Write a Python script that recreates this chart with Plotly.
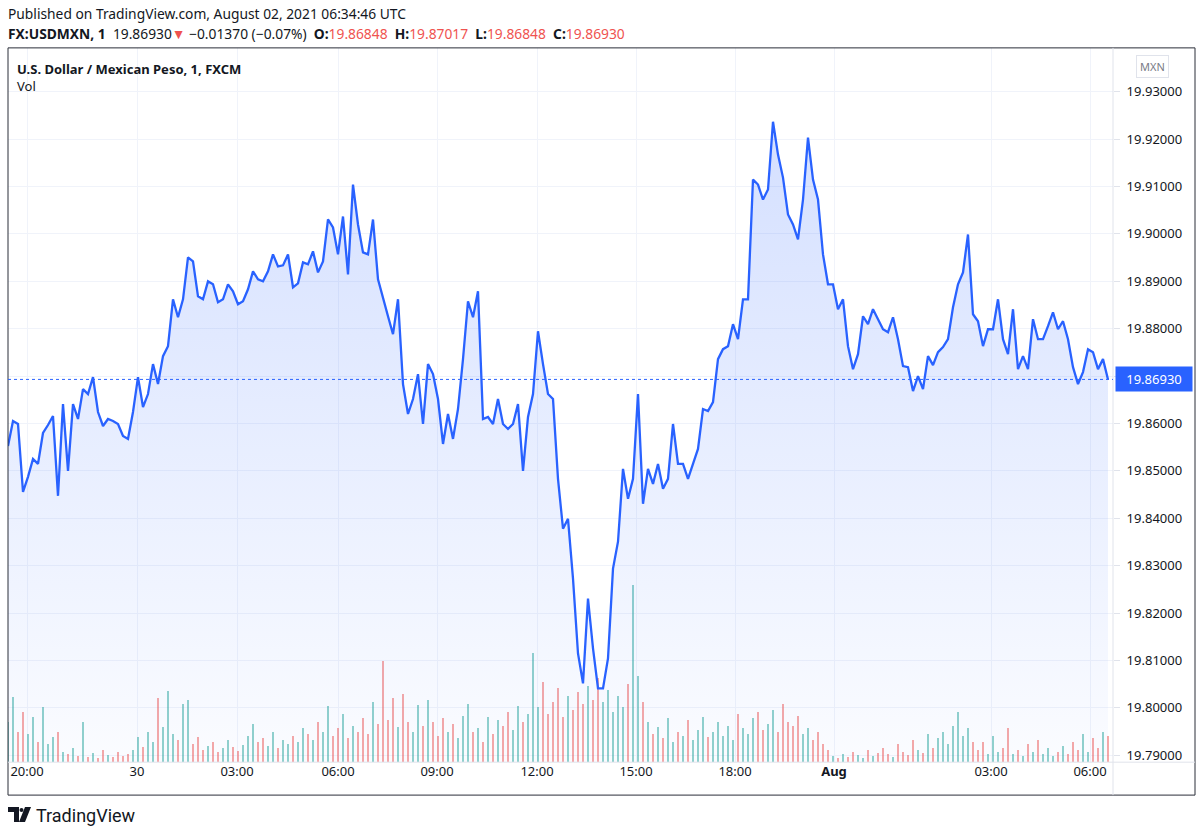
import plotly.graph_objects as go

# USD/MXN 1-minute, sampled along the chart (oldest -> newest)
prices = [
    19.85526, 19.86053, 19.85989, 19.84558, 19.84874, 19.85253, 19.85147, 19.85800, 19.85968, 19.86158,
    19.84474, 19.86410, 19.85000, 19.86410, 19.86095, 19.86726, 19.86621, 19.86979, 19.86242, 19.85947,
    19.86095, 19.86053, 19.85989, 19.85737, 19.85674, 19.86242, 19.86979, 19.86347, 19.86621, 19.87253,
    19.86832, 19.87421, 19.87632, 19.88621, 19.88242, 19.88621, 19.89505, 19.89421, 19.88684, 19.88621,
    19.89000, 19.88937, 19.88558, 19.88621, 19.88937, 19.88789, 19.88516, 19.88579, 19.88832, 19.89211,
    19.89042, 19.89000, 19.89211, 19.89568, 19.89316, 19.89337, 19.89568, 19.88874, 19.88958, 19.89400,
    19.89358, 19.89632, 19.89189, 19.89421, 19.90305, 19.90137, 19.89568, 19.90368, 19.89147, 19.91042,
    19.90200, 19.89611, 19.89568, 19.90305, 19.89042, 19.88621, 19.88263, 19.87884, 19.88621, 19.86832,
    19.86200, 19.86516, 19.87042, 19.85989, 19.87253, 19.87042, 19.86516, 19.85568, 19.86200, 19.85674,
    19.86305, 19.87358, 19.88579, 19.88242, 19.88789, 19.86095, 19.86137, 19.85989, 19.86516, 19.85989,
    19.85884, 19.85989, 19.86410, 19.85000, 19.86137, 19.86621, 19.87947, 19.87253, 19.86621, 19.86516,
    19.84832, 19.83779, 19.83989, 19.82726, 19.81147, 19.80516, 19.82305, 19.81252, 19.80410, 19.80410,
    19.81042, 19.82937, 19.83505, 19.85042, 19.84410, 19.84832, 19.86621, 19.84305, 19.85042, 19.84726,
    19.85147, 19.84621, 19.84832, 19.85989, 19.85147, 19.85147, 19.84832, 19.85147, 19.85463, 19.86305,
    19.86263, 19.86453, 19.87358, 19.87568, 19.87632, 19.88095, 19.87779, 19.88621, 19.88621, 19.91147,
    19.91042, 19.90726, 19.90937, 19.92368, 19.91674, 19.91189, 19.90411, 19.90200, 19.89884, 19.90726,
    19.92032, 19.91147, 19.90726, 19.89568, 19.88937, 19.88937, 19.88411, 19.88621, 19.87632, 19.87147,
    19.87463, 19.88263, 19.88095, 19.88411, 19.88200, 19.87989, 19.87926, 19.88242, 19.87779, 19.87211,
    19.87189, 19.86684, 19.87000, 19.86726, 19.87421, 19.87232, 19.87505, 19.87611, 19.87779, 19.88453,
    19.88937, 19.89189, 19.89989, 19.88305, 19.88158, 19.87632, 19.87989, 19.87989, 19.88621, 19.87779,
    19.87463, 19.88411, 19.87147, 19.87421, 19.87147, 19.88200, 19.87779, 19.87779, 19.88053, 19.88347,
    19.87989, 19.88158, 19.87779, 19.87189, 19.86832, 19.87084, 19.87568, 19.87505, 19.87147, 19.87358,
    19.86930,
]

volumes = [
    40, 65, 30, 50,
    28, 45, 20, 55, 18, 25, 30,
    10, 8, 14, 6, 40, 5, 9, 4, 12, 7, 5, 10, 6, 8, 12,
    25, 15, 30, 20, 64, 35, 71, 28, 22, 58, 62,
    18, 25, 12, 16, 20, 10, 14, 22, 15, 11, 17, 26,
    38, 20, 24, 16, 30, 14, 22, 18, 26, 20, 34,
    28, 22, 40, 30, 56, 26, 34, 48, 24, 36, 30, 44, 28,
    60, 38, 102, 42, 64, 35, 68, 40, 30,
    57, 36, 62, 40, 26, 44, 30, 38, 24, 46, 58,
    30, 34, 20, 45, 28, 42, 36, 50, 32, 56, 40, 48,
    110, 55, 80, 48, 60, 74, 45, 66, 52, 70, 58, 76, 62,
    84, 60, 72, 50, 66, 55, 78, 178,
    86, 60, 40, 28, 35, 24, 44, 20, 30, 26, 42, 22, 32, 45, 25,
    30, 40, 26, 36, 22, 48, 34, 28, 44, 50, 32, 38, 52, 30, 58, 40, 36, 46, 28, 34,
    22, 30, 18, 12,
    6, 4, 8, 5, 10, 7, 4, 12, 6, 9, 14, 8, 5, 18, 10, 7, 22, 12, 9, 28, 14,
    24, 30, 18, 36, 50, 26, 34, 20,
    12, 20, 8, 26, 10, 14, 34, 8, 12, 6, 18, 10, 22, 8, 14, 6, 10, 16, 8, 20, 12, 28, 10, 24, 14, 30, 26,
]

time_labels = ["20:00", "30", "03:00", "06:00", "09:00", "12:00", "15:00", "18:00", "<b>Aug</b>", "03:00", "06:00"]
time_pos = [3.8, 25.8, 45.8, 66.0, 85.8, 105.8, 125.6, 145.4, 165.2, 196.6, 216.4]

price_ticks = [19.79, 19.80, 19.81, 19.82, 19.83, 19.84, 19.85, 19.86, 19.87, 19.88, 19.89, 19.90, 19.91, 19.92, 19.93]

W, H = 1200, 837
BLUE = "#2962ff"
RED = "#ef5350"
TXT = "#131722"
GRID = "#f0f3fa"
SEP = "#e0e3eb"


def px(x):
    return x / W


def py(y):
    return 1 - y / H


n = len(prices)
xs = list(range(n))
last = prices[-1]
vol_colors = ["rgba(38,166,154,0.5)"] + [
    "rgba(38,166,154,0.5)" if prices[i] >= prices[i - 1] else "rgba(239,83,80,0.5)"
    for i in range(1, n)
]
# the last-price badge covers the nearest round label, as on TradingView
price_text = ["" if abs(t - last) < 0.002 else f"{t:.5f}" for t in price_ticks]

fig = go.Figure()

fig.add_trace(go.Bar(x=xs, y=volumes[:n], marker_color=vol_colors, marker_line_width=0,
                     width=0.5, yaxis="y", hoverinfo="skip"))

y_lo, y_hi = 19.78853, 19.93926
fig.add_trace(go.Scatter(x=xs, y=prices, mode="lines", yaxis="y2",
                         line=dict(color=BLUE, width=2.3),
                         fill="tozeroy",
                         fillgradient=dict(type="vertical", start=y_lo, stop=max(prices),
                                           colorscale=[[0, "rgba(41,98,255,0.02)"],
                                                       [1, "rgba(41,98,255,0.20)"]])))

fig.update_layout(
    width=W, height=H,
    margin=dict(l=0, r=0, t=0, b=0),
    paper_bgcolor="white", plot_bgcolor="white",
    showlegend=False, bargap=0,
    font=dict(family="Noto Sans", color=TXT, size=13),
    xaxis=dict(domain=[px(8), px(1113)], range=[0, 221], showgrid=True, gridcolor=GRID,
               tickvals=time_pos, ticktext=time_labels, ticks="", zeroline=False,
               tickfont=dict(size=13, color=TXT), fixedrange=True),
    yaxis=dict(domain=[py(764), py(48)], range=[0, 716], visible=False, showgrid=False),
    yaxis2=dict(overlaying="y", side="right", range=[y_lo, y_hi],
                tickvals=price_ticks, ticktext=price_text,
                showgrid=True, gridcolor=GRID, zeroline=False,
                ticks="outside", ticklen=6, tickcolor=SEP, ticklabelstandoff=4,
                tickfont=dict(size=13, color=TXT)),
)

# frame, axis separators, last price line
fig.add_shape(type="rect", xref="paper", yref="paper", x0=px(8), x1=px(1195), y0=py(797), y1=py(48),
              line=dict(color="#2a2e39", width=1))
fig.add_shape(type="line", xref="paper", yref="paper", x0=px(1113), x1=px(1113), y0=py(797), y1=py(48),
              line=dict(color=SEP, width=1))
fig.add_shape(type="line", xref="paper", yref="paper", x0=px(8), x1=px(1195), y0=py(764), y1=py(764),
              line=dict(color=SEP, width=1))
fig.add_shape(type="line", xref="paper", yref="y2", x0=px(8), x1=px(1113), y0=last, y1=last,
              line=dict(color=BLUE, width=1, dash="dot"))

fig.add_annotation(xref="paper", yref="y2", x=px(1115), y=last, xanchor="left", yanchor="middle",
                   text=f"{last:.5f}", showarrow=False, bgcolor=BLUE, width=70, borderpad=3,
                   font=dict(color="white", size=13))
fig.add_annotation(xref="paper", yref="paper", x=px(1152), y=py(67), xanchor="center", yanchor="middle",
                   text="MXN", showarrow=False, bordercolor=SEP, borderwidth=1, borderpad=3,
                   font=dict(color="#787b86", size=11))

# header texts
fig.add_annotation(xref="paper", yref="paper", x=px(6), y=py(14), xanchor="left", yanchor="middle",
                   showarrow=False, text="Published on TradingView.com, August 02, 2021 06:34:46 UTC",
                   font=dict(size=13.8, color=TXT))
head = (f"<b>FX:USDMXN, 1</b>  19.86930<span style='color:{RED}'>▼</span> −0.01370 (−0.07%)  "
        f"<b>O:</b><span style='color:{RED}'>19.86848</span>  "
        f"<b>H:</b><span style='color:{RED}'>19.87017</span>  "
        f"<b>L:</b><span style='color:{RED}'>19.86848</span>  "
        f"<b>C:</b><span style='color:{RED}'>19.86930</span>")
fig.add_annotation(xref="paper", yref="paper", x=px(6), y=py(34), xanchor="left", yanchor="middle",
                   showarrow=False, text=head, font=dict(size=13.8, color=TXT))
fig.add_annotation(xref="paper", yref="paper", x=px(15), y=py(69), xanchor="left", yanchor="middle",
                   showarrow=False, text="<b>U.S. Dollar / Mexican Peso, 1, FXCM</b>",
                   font=dict(size=13, color=TXT))
fig.add_annotation(xref="paper", yref="paper", x=px(15), y=py(86), xanchor="left", yanchor="middle",
                   showarrow=False, text="Vol", font=dict(size=13, color=TXT))

# TradingView logo
logo = dict(type="path", xref="paper", yref="paper", fillcolor=TXT, line=dict(width=0))
fig.add_shape(path=f"M {px(8)},{py(809)} L {px(19)},{py(809)} L {px(19)},{py(824)} L {px(14)},{py(824)} "
                   f"L {px(14)},{py(814)} L {px(8)},{py(814)} Z", **logo)
fig.add_shape(type="circle", xref="paper", yref="paper", x0=px(19.5), x1=px(23.5), y0=py(814), y1=py(810),
              fillcolor=TXT, line=dict(width=0))
fig.add_shape(path=f"M {px(25)},{py(809)} L {px(31)},{py(809)} L {px(25)},{py(824)} L {px(19)},{py(824)} Z",
              **logo)
fig.add_annotation(xref="paper", yref="paper", x=px(34), y=py(817), xanchor="left", yanchor="middle",
                   showarrow=False, text="TradingView", font=dict(size=18, color=TXT, family="Roboto"))

# drop the default page margin so the figure sits at the window's top-left corner
fig.write_html("out.html", config={"displayModeBar": False},
               post_script="document.body.style.margin='0';")
